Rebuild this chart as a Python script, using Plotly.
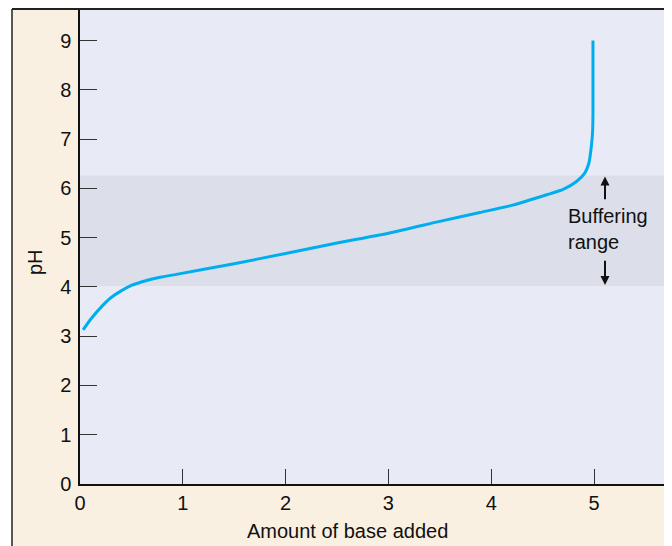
import plotly.graph_objects as go

# Data
base_added = [0.03, 0.11, 0.21, 0.30, 0.40, 0.50, 0.63, 0.79, 0.95, 1.5, 2.0, 2.5, 3.0, 3.5, 3.89, 4.21, 4.54, 4.70, 4.83, 4.91, 4.95, 4.97, 4.985, 4.99, 4.99]
ph_values = [3.13, 3.36, 3.60, 3.78, 3.92, 4.03, 4.12, 4.20, 4.26, 4.47, 4.68, 4.89, 5.09, 5.33, 5.51, 5.66, 5.87, 5.98, 6.14, 6.31, 6.51, 6.78, 7.1, 7.5, 9.0]
x_ticks = [0, 1, 2, 3, 4, 5]
y_ticks = [0, 1, 2, 3, 4, 5, 6, 7, 8, 9]
buffer_low, buffer_high = 4.02, 6.26

FONT = "Liberation Sans, Arial, Helvetica, sans-serif"
BEIGE = "#FAF0E1"
PLOT_BG = "#E8EBF5"
BAND = "#DCDFEA"
CYAN = "#00AEEF"

fig = go.Figure()
fig.add_trace(go.Scatter(
    x=base_added, y=ph_values, mode="lines",
    line=dict(color=CYAN, width=3, shape="spline", smoothing=0.6),
    hoverinfo="skip", showlegend=False,
))

# page is drawn with an 8px body offset, so figure coords = screen - 8
L, T, B = 72, 2, 70
W, H = 672, 546
pw, ph = W - L, H - T - B
XPX, YPX = 102.8, 49.27  # pixels per data unit

def px_x(sx):
    return (sx - 8 - L) / pw

def px_y(sy):
    return (H - B - (sy - 8)) / ph

shapes = [
    dict(type="rect", xref="x domain", yref="y", x0=0, x1=1, y0=buffer_low, y1=buffer_high,
         fillcolor=BAND, line=dict(width=0), layer="below"),
    dict(type="rect", xref="paper", yref="paper", x0=-0.3, x1=px_x(12), y0=-0.3, y1=1.2,
         fillcolor="white", line=dict(width=0), layer="above"),
    dict(type="line", xref="paper", yref="paper", x0=px_x(12), x1=1.2,
         y0=px_y(9), y1=px_y(9), line=dict(color="#222", width=2)),
    dict(type="line", xref="paper", yref="paper", x0=px_x(12), x1=px_x(12),
         y0=-0.3, y1=px_y(9), line=dict(color="#222", width=1.5)),
]

annotations = [
    dict(text="Amount of base added", xref="x", yref="paper", x=2.6, y=px_y(531),
         showarrow=False, font=dict(size=20, color="#111", family=FONT), xanchor="center", yanchor="middle"),
    dict(text="pH", xref="paper", yref="paper", x=px_x(35), y=px_y(262), textangle=-90,
         showarrow=False, font=dict(size=20, color="#111", family=FONT), xanchor="center", yanchor="middle"),
    dict(text="Buffering<br>range", xref="x", yref="y", x=4.73, y=5.17, align="left",
         showarrow=False, font=dict(size=20, color="#111", family=FONT), xanchor="left", yanchor="middle"),
    dict(text="", xref="x", yref="y", x=5.107, y=buffer_high - 0.02, ax=5.107, ay=5.75,
         axref="x", ayref="y", showarrow=True, arrowhead=2, arrowsize=0.9, arrowwidth=2, arrowcolor="#111"),
    dict(text="", xref="x", yref="y", x=5.107, y=buffer_low + 0.02, ax=5.107, ay=4.56,
         axref="x", ayref="y", showarrow=True, arrowhead=2, arrowsize=0.9, arrowwidth=2, arrowcolor="#111"),
]

fig.update_layout(
    width=W, height=H,
    margin=dict(l=L, r=0, t=T, b=B, pad=0),
    paper_bgcolor=BEIGE, plot_bgcolor=PLOT_BG,
    font=dict(family=FONT, size=20, color="#111"),
    shapes=shapes, annotations=annotations, showlegend=False,
    xaxis=dict(range=[0, pw / XPX], tickvals=x_ticks, ticktext=[str(v) for v in x_ticks],
               ticks="inside", ticklen=15, tickwidth=1.3, tickcolor="#333",
               showline=True, linecolor="#111", linewidth=2, showgrid=False, zeroline=False,
               tickfont=dict(size=20, family=FONT, color="#111")),
    yaxis=dict(range=[0, ph / YPX], tickvals=y_ticks, ticktext=[str(v) for v in y_ticks],
               ticks="inside", ticklen=17, tickwidth=1.3, tickcolor="#333",
               ticklabelstandoff=3,
               showline=True, linecolor="#111", linewidth=1.5, showgrid=False, zeroline=False,
               tickfont=dict(size=20, family=FONT, color="#111")),
)

fig.write_html("out.html")
